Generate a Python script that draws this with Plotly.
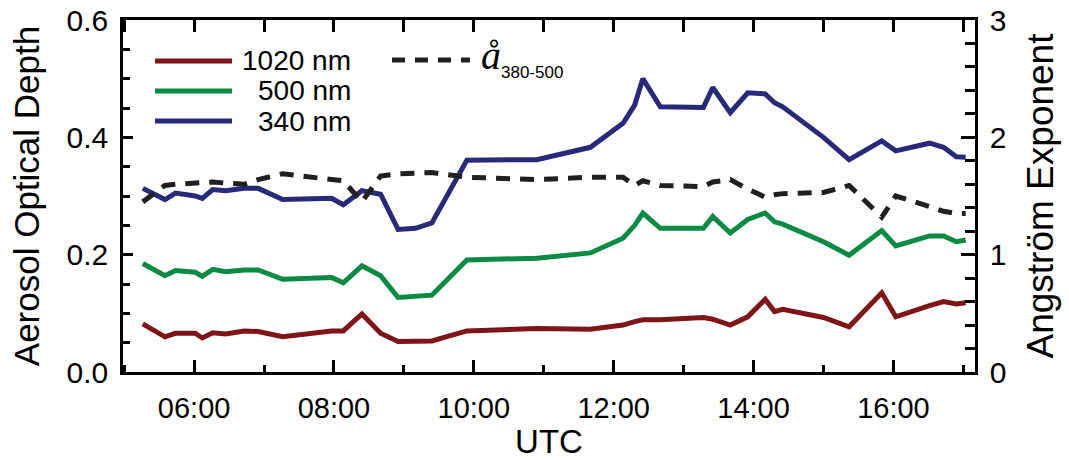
import plotly.graph_objects as go

# Sun-photometer time series (UTC) for one day
times = ["05:16", "05:35", "05:44", "06:01", "06:07", "06:16", "06:27", "06:43",
         "06:55", "07:16", "07:58", "08:08", "08:24", "08:40", "08:55", "09:10",
         "09:24", "09:54", "10:54", "11:40", "12:08", "12:18", "12:25", "12:40",
         "13:17", "13:25", "13:40", "13:55", "14:10", "14:18", "14:25", "15:00",
         "15:22", "15:50", "16:02", "16:31", "16:43", "16:54", "17:02"]

aod_340 = [0.313, 0.294, 0.305, 0.300, 0.296, 0.311, 0.309, 0.313,
           0.313, 0.294, 0.296, 0.285, 0.309, 0.303, 0.243, 0.245,
           0.254, 0.361, 0.362, 0.383, 0.424, 0.455, 0.500, 0.452,
           0.451, 0.485, 0.442, 0.476, 0.474, 0.459, 0.452, 0.400,
           0.362, 0.394, 0.377, 0.390, 0.383, 0.367, 0.366]

aod_500 = [0.185, 0.164, 0.173, 0.170, 0.163, 0.175, 0.171, 0.174,
           0.174, 0.158, 0.161, 0.152, 0.181, 0.164, 0.127, 0.128,
           0.131, 0.191, 0.194, 0.203, 0.228, 0.250, 0.271, 0.245,
           0.245, 0.265, 0.237, 0.260, 0.271, 0.256, 0.252, 0.222,
           0.199, 0.241, 0.215, 0.232, 0.232, 0.222, 0.225]

aod_1020 = [0.082, 0.060, 0.066, 0.066, 0.058, 0.067, 0.065, 0.070,
            0.069, 0.060, 0.070, 0.070, 0.099, 0.066, 0.052, 0.052,
            0.053, 0.070, 0.074, 0.073, 0.080, 0.086, 0.089, 0.089,
            0.093, 0.090, 0.080, 0.094, 0.124, 0.103, 0.107, 0.093,
            0.077, 0.135, 0.094, 0.113, 0.120, 0.116, 0.118]

angstrom_380_500 = [1.45, 1.59, 1.60, 1.61, 1.61, 1.62, 1.61, 1.60,
                    1.64, 1.69, 1.64, 1.63, 1.45, 1.67, 1.69, 1.70,
                    1.70, 1.66, 1.64, 1.66, 1.66, 1.59, 1.63, 1.59,
                    1.58, 1.62, 1.64, 1.56, 1.49, 1.51, 1.52, 1.53,
                    1.59, 1.32, 1.50, 1.41, 1.37, 1.35, 1.35]

series_names = ["1020 nm", "500 nm", "340 nm"]
series_colors = ["#7e1518", "#0a8a43", "#262a78"]
dash_color = "#231f20"

DAY = "2000-01-01 "
x_time = [DAY + t for t in times]
x_range = [DAY + "04:59", DAY + "17:10"]

SANS = "Liberation Sans, Arial, sans-serif"
AXW = 2.5

fig = go.Figure()

for vals, name, col in zip([aod_1020, aod_500, aod_340], series_names, series_colors):
    fig.add_trace(go.Scatter(x=x_time, y=vals, mode="lines", name=name,
                             line=dict(color=col, width=5), xaxis="x", yaxis="y"))

fig.add_trace(go.Scatter(x=x_time, y=angstrom_380_500, mode="lines", name="å 380-500",
                         line=dict(color=dash_color, width=5, dash="14px,10px"),
                         xaxis="x2", yaxis="y2"))

fig.update_layout(
    width=1069, height=460,
    margin=dict(l=123, r=94, t=20, b=88),
    paper_bgcolor="white", plot_bgcolor="white",
    showlegend=False,
    xaxis=dict(
        type="date", range=x_range, tickformat="%H:%M",
        tick0=DAY + "06:00", dtick=2 * 3600000,
        ticks="inside", ticklen=12, tickwidth=AXW, tickcolor="black",
        showline=True, linewidth=AXW, linecolor="black", showgrid=False, zeroline=False,
        minor=dict(dtick=3600000, ticks="inside", ticklen=7, tickwidth=AXW,
                   tickcolor="black", showgrid=False),
        tickfont=dict(family=SANS, size=29, color="black"),
        ticklabelstandoff=8, automargin=False,
        title=dict(text="UTC", font=dict(family=SANS, size=33, color="black"), standoff=6),
    ),
    xaxis2=dict(
        type="date", range=x_range, overlaying="x", side="top", anchor="y2",
        tick0=DAY + "05:00", dtick=3600000,
        ticks="inside", ticklen=12, tickwidth=AXW, tickcolor="black",
        showline=True, linewidth=AXW, linecolor="black", showgrid=False,
        showticklabels=False, zeroline=False, automargin=False,
    ),
    yaxis=dict(
        range=[0, 0.6], dtick=0.2, tickformat=".1f",
        ticks="inside", ticklen=10, tickwidth=AXW, tickcolor="black",
        showline=True, linewidth=AXW, linecolor="black", showgrid=False, zeroline=False,
        minor=dict(dtick=0.05, ticks="inside", ticklen=7, tickwidth=AXW,
                   tickcolor="black", showgrid=False),
        tickfont=dict(family=SANS, size=30, color="black"),
        ticklabelstandoff=6, automargin=False,
        title=dict(text="Aerosol Optical Depth", font=dict(family=SANS, size=35, color="black"),
                   standoff=17),
    ),
    yaxis2=dict(
        range=[0, 3], dtick=1, overlaying="y", side="right", anchor="x2",
        ticks="inside", ticklen=14, tickwidth=AXW, tickcolor="black",
        showline=True, linewidth=AXW, linecolor="black", showgrid=False, zeroline=False,
        minor=dict(dtick=0.2, ticks="inside", ticklen=10, tickwidth=AXW,
                   tickcolor="black", showgrid=False),
        tickfont=dict(family=SANS, size=30, color="black"),
        ticklabelstandoff=6, automargin=False,
        title=dict(text="Angström Exponent", font=dict(family=SANS, size=37, color="black"),
                   standoff=22),
    ),
)

# Legend drawn in plot-area coordinates
def px_x(p):
    return (p - 123) / 852.0

def px_y(p):
    return (372 - p) / 352.0

legend_rows = [61, 91, 121]
for name, col, row in zip(series_names, series_colors, legend_rows):
    fig.add_shape(type="line", xref="paper", yref="paper",
                  x0=px_x(155), x1=px_x(232), y0=px_y(row), y1=px_y(row),
                  line=dict(color=col, width=5))
    fig.add_annotation(xref="paper", yref="paper", x=px_x(353), y=px_y(row),
                       text=name, showarrow=False, xanchor="right", yanchor="middle",
                       font=dict(family=SANS, size=28, color="black"))

fig.add_shape(type="line", xref="paper", yref="paper",
              x0=px_x(392), x1=px_x(470), y0=px_y(60), y1=px_y(60),
              line=dict(color=dash_color, width=5, dash="13px,10px"))
fig.add_annotation(xref="paper", yref="paper", x=px_x(479), y=px_y(80),
                   text="<i>å</i>", showarrow=False, xanchor="left", yanchor="bottom",
                   font=dict(family="Liberation Serif, Times New Roman, serif", size=40,
                             color="black"))
fig.add_annotation(xref="paper", yref="paper", x=px_x(499), y=px_y(73),
                   text="380-500", showarrow=False, xanchor="left", yanchor="middle",
                   font=dict(family=SANS, size=17, color="black"))

fig.write_html("out.html")
